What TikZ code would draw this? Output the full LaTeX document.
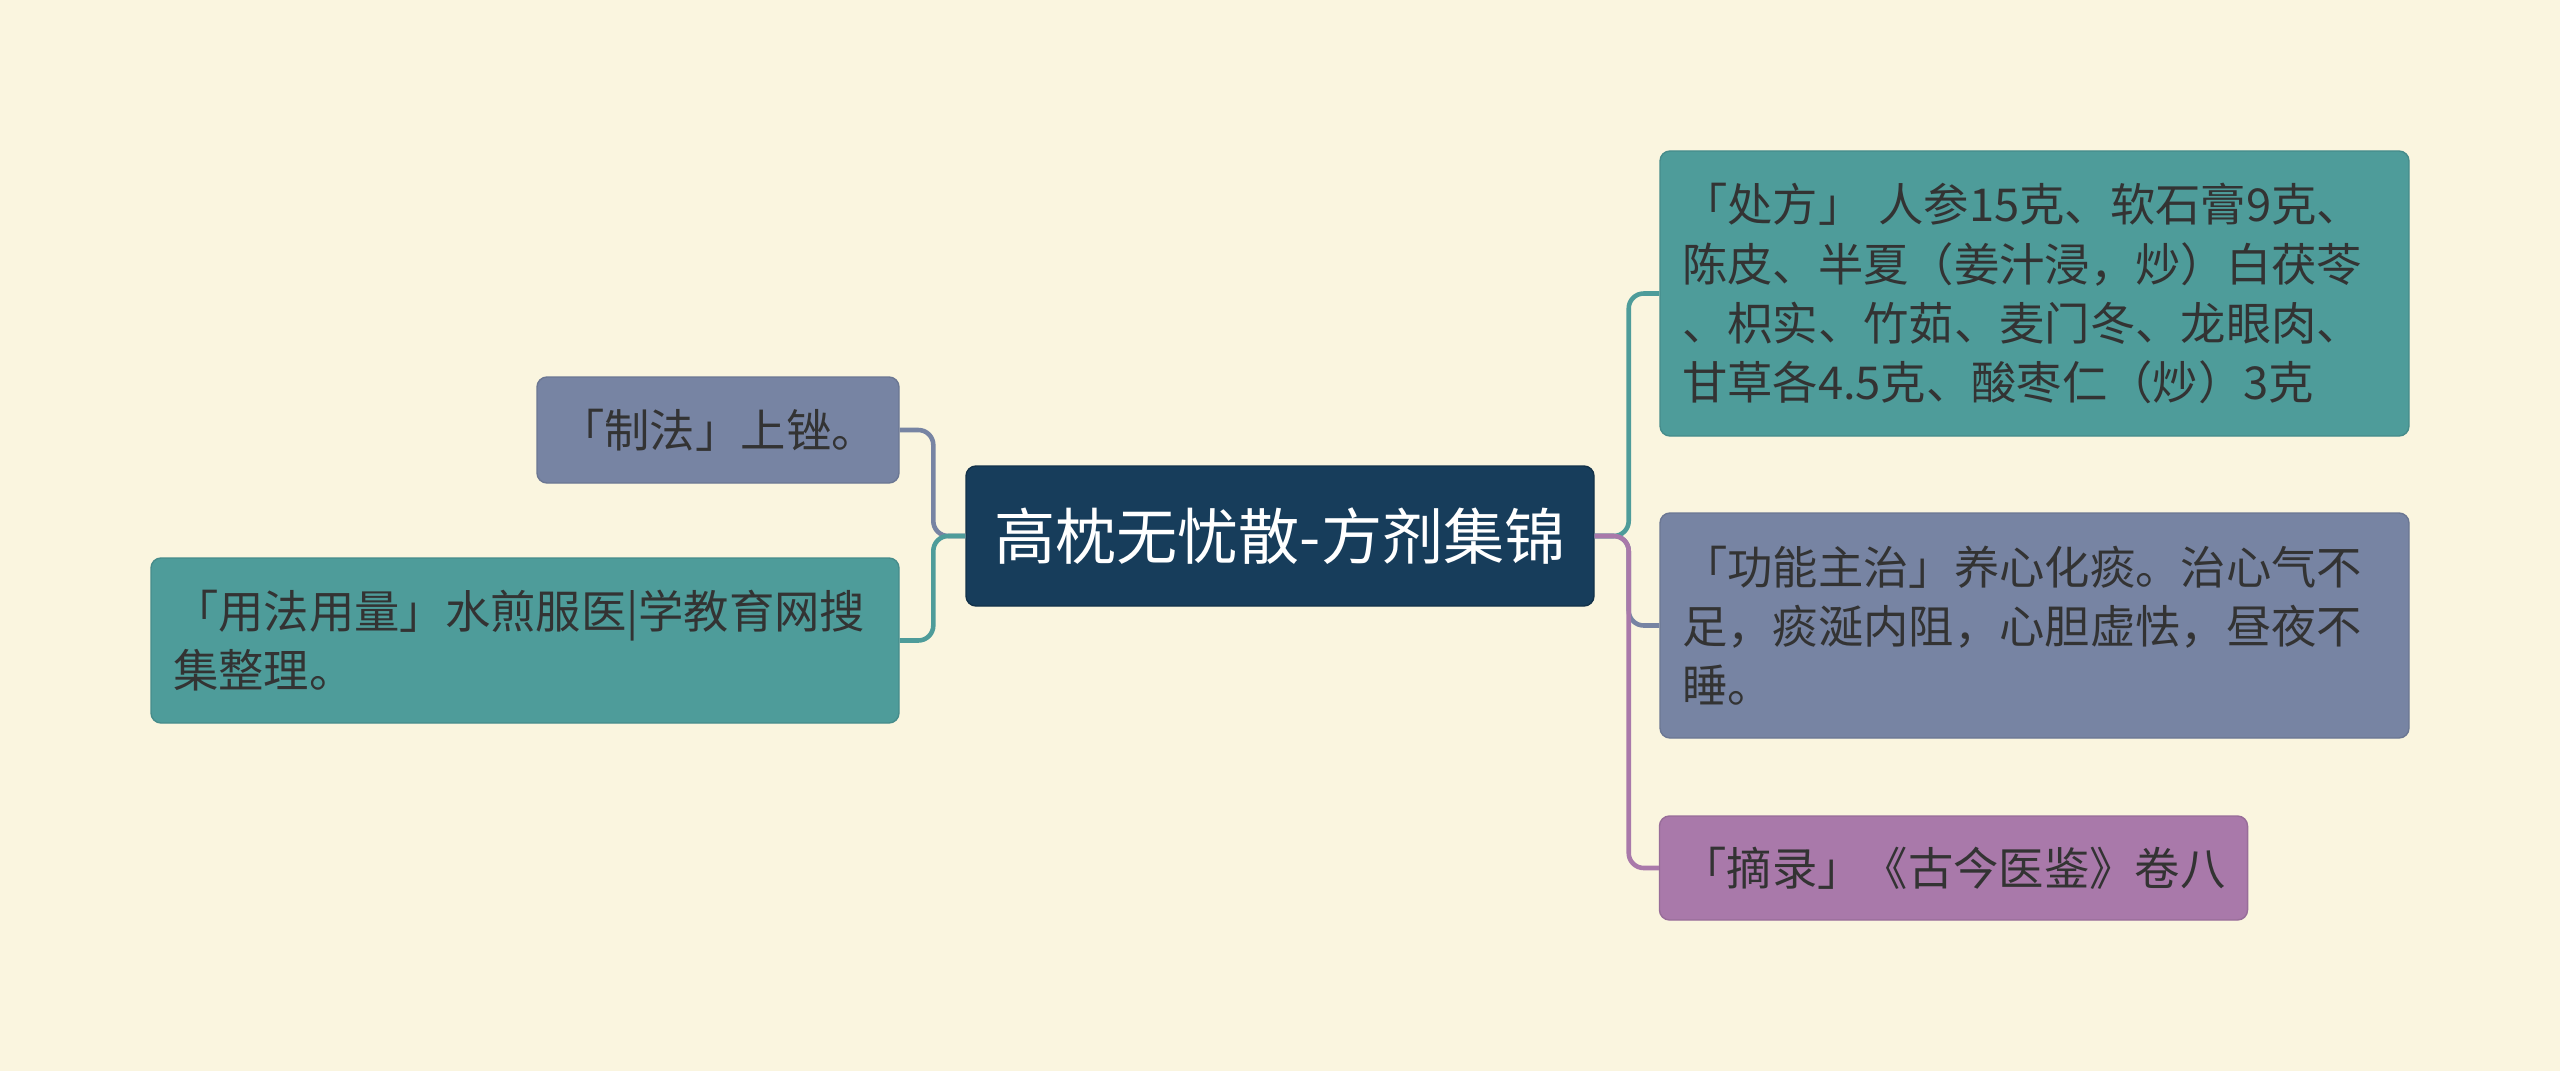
\documentclass[tikz,border=0pt]{standalone}
\usepackage{fontspec}
\setmainfont{Noto Sans CJK SC}
\definecolor{cream}{HTML}{FAF5DF}
\definecolor{navy}{HTML}{173D5B}
\definecolor{teal}{HTML}{4E9C9A}
\definecolor{slate}{HTML}{7784A3}
\definecolor{plum}{HTML}{A979AA}
\definecolor{ink}{HTML}{333333}
\usetikzlibrary{positioning}

\begin{document}
\begin{tikzpicture}[
    font=\fontsize{12.9pt}{16.8pt}\selectfont,
    topic/.style={fill=navy, draw=navy!80!black, rounded corners=0.1cm,
                  text=white, font=\fontsize{17.4pt}{20pt}\selectfont,
                  minimum width=6.28cm, minimum height=1.40cm},
    leaf/.style={draw=#1!90!black, fill=#1, rounded corners=0.1cm,
                 text=ink, inner xsep=0.22cm, line width=0.4pt},
    link/.style={draw=#1, line width=1.3pt, rounded corners=0.15cm},
  ]
    \path[fill=cream, use as bounding box] (0,0) rectangle (25.6,-10.71);
    % --- centre ----------------------------------------------------------
    \node[topic] (root) at (12.80,-5.36) {高枕无忧散-方剂集锦};
    % --- left branch -----------------------------------------------------
    \node[leaf=slate, minimum width=3.62cm, minimum height=1.06cm]
        (zhifa) at (7.18,-4.30) {「制法」上锉。};
    \node[leaf=teal, text width=7.04cm, align=left, minimum height=1.65cm]
        (yongfa) at (5.25,-6.405)
        {「用法用量」水煎服医|学教育网搜\\集整理。};
    % --- right branch ----------------------------------------------------
    \node[leaf=teal, text width=7.05cm, align=left, minimum height=2.85cm]
        (chufang) at (20.345,-2.935)
        {「处方」 人参15克、软石膏9克、\\陈皮、半夏（姜汁浸，炒）白茯苓\\、枳实、竹茹、麦门冬、龙眼肉、\\甘草各4.5克、酸枣仁（炒）3克};
    \node[leaf=slate, text width=7.05cm, align=left, minimum height=2.25cm]
        (gongneng) at (20.345,-6.255)
        {「功能主治」养心化痰。治心气不\\足，痰涎内阻，心胆虚怯，昼夜不\\睡。};
    \node[leaf=plum, minimum width=5.87cm, minimum height=1.04cm]
        (zhailu) at (19.535,-8.68) {「摘录」《古今医鉴》卷八};
    % --- links -----------------------------------------------------------
    \draw[link=teal]  (root.east) -- ++(0.34,0) |- (chufang.west);
    \draw[link=slate] (root.east) -- ++(0.34,0) |- (gongneng.west);
    \draw[link=plum]  (root.east) -- ++(0.34,0) |- (zhailu.west);
    \draw[link=slate] (root.west) -- ++(-0.32,0) |- (zhifa.east);
    \draw[link=teal]  (root.west) -- ++(-0.32,0) |- (yongfa.east);
  \end{tikzpicture}
\end{document}
